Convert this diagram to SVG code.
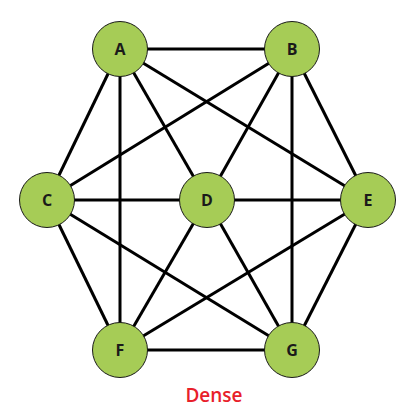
<svg xmlns="http://www.w3.org/2000/svg" width="407" height="410" viewBox="0 0 407 410">
<style>
.e{stroke:#000;stroke-width:3;fill:none}
.n circle{fill:#a6cc56;stroke:#1a1a1a;stroke-width:1}
.n text{font-family:"Open Sans","DejaVu Sans",sans-serif;font-weight:bold;font-size:16px;fill:#1a1a1a;text-anchor:middle;dominant-baseline:central}
.t{font-family:"Open Sans","DejaVu Sans",sans-serif;font-weight:600;font-size:19px;fill:#e8202a;text-anchor:middle}
</style>
<rect width="407" height="410" fill="#fff"/>
<g id="edges">
<line class="e" x1="120" y1="49" x2="292" y2="49"/>
<line class="e" x1="120" y1="49" x2="47" y2="200"/>
<line class="e" x1="120" y1="49" x2="207" y2="200"/>
<line class="e" x1="120" y1="49" x2="368" y2="200"/>
<line class="e" x1="120" y1="49" x2="120" y2="350"/>
<line class="e" x1="292" y1="49" x2="47" y2="200"/>
<line class="e" x1="292" y1="49" x2="207" y2="200"/>
<line class="e" x1="292" y1="49" x2="368" y2="200"/>
<line class="e" x1="292" y1="49" x2="292" y2="350"/>
<line class="e" x1="47" y1="200" x2="368" y2="200"/>
<line class="e" x1="47" y1="200" x2="120" y2="350"/>
<line class="e" x1="47" y1="200" x2="292" y2="350"/>
<line class="e" x1="207" y1="200" x2="120" y2="350"/>
<line class="e" x1="207" y1="200" x2="292" y2="350"/>
<line class="e" x1="368" y1="200" x2="120" y2="350"/>
<line class="e" x1="368" y1="200" x2="292" y2="350"/>
<line class="e" x1="120" y1="350" x2="292" y2="350"/>
</g>
<g id="A" class="n"><circle cx="120" cy="49" r="27.5"/><text x="120" y="49">A</text></g>
<g id="B" class="n"><circle cx="292" cy="49" r="27.5"/><text x="292" y="49">B</text></g>
<g id="C" class="n"><circle cx="47" cy="200" r="27.5"/><text x="47" y="200">C</text></g>
<g id="D" class="n"><circle cx="207" cy="200" r="27.5"/><text x="207" y="200">D</text></g>
<g id="E" class="n"><circle cx="368" cy="200" r="27.5"/><text x="368" y="200">E</text></g>
<g id="F" class="n"><circle cx="120" cy="350" r="27.5"/><text x="120" y="350">F</text></g>
<g id="G" class="n"><circle cx="292" cy="350" r="27.5"/><text x="292" y="350">G</text></g>
<text class="t" x="214" y="402">Dense</text>
</svg>
